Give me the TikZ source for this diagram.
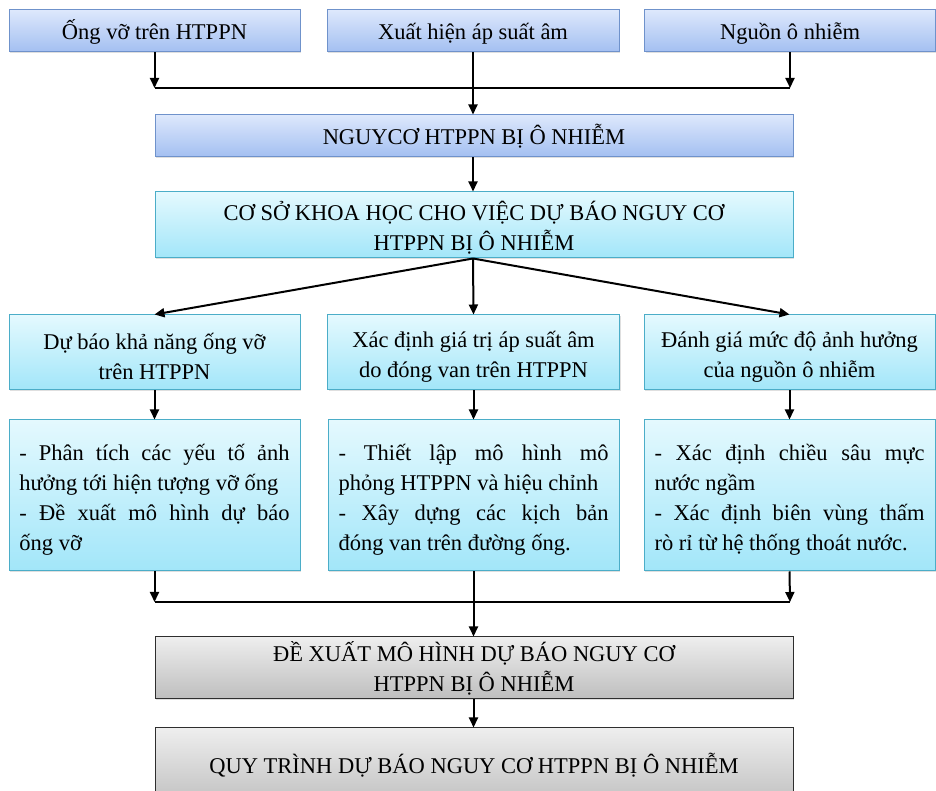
\documentclass[tikz,border=0pt]{standalone}
\usepackage{fontspec}
\setmainfont{Liberation Serif}
\usetikzlibrary{arrows.meta, shadows}

\definecolor{blueTop}{HTML}{DDE8FC}
\definecolor{blueBot}{HTML}{A3BFF1}
\definecolor{blueLine}{HTML}{6F92CB}
\definecolor{cyanTop}{HTML}{E4F9FE}
\definecolor{cyanBot}{HTML}{A2E6F9}
\definecolor{cyanLine}{HTML}{4BADC8}
\definecolor{grayTop}{HTML}{EEEEEE}
\definecolor{grayBot}{HTML}{BEBEBE}
\definecolor{grayLine}{HTML}{2E2E2E}

\begin{document}
\begin{tikzpicture}[x=1pt, y=1pt,
    font=\fontsize{22.5}{30}\selectfont,
    box/.style={rectangle, draw, line width=1pt, align=center, inner sep=0pt,
        drop shadow={opacity=0.25, shadow xshift=1.2pt, shadow yshift=-1.5pt}},
    oneline/.style={text height=19pt, text depth=1pt},
    bluebox/.style={box, draw=blueLine, top color=blueTop, bottom color=blueBot},
    cyanbox/.style={box, draw=cyanLine, top color=cyanTop, bottom color=cyanBot},
    graybox/.style={box, draw=grayLine, top color=grayTop, bottom color=grayBot},
    listbox/.style={cyanbox, align=justify, text width=270pt, inner xsep=10.5pt,
        minimum width=291pt, minimum height=151pt},
    arr/.style={-{Triangle[length=10pt, width=9pt]}, line width=2pt},
    lin/.style={line width=2pt}]
    \useasboundingbox (0,0) rectangle (936,791);

    % Draw nodes
    \node[bluebox, oneline, minimum width=291pt, minimum height=42pt] (src1) at (154.5,760) {Ống vỡ trên HTPPN};
    \node[bluebox, oneline, minimum width=292pt, minimum height=42pt] (src2) at (473,760) {Xuất hiện áp suất âm};
    \node[bluebox, oneline, minimum width=291pt, minimum height=42pt] (src3) at (790,760) {Nguồn ô nhiễm};

    \node[bluebox, oneline, minimum width=638pt, minimum height=42pt] (risk) at (474,655) {NGUYCƠ HTPPN BỊ Ô NHIỄM};
    \node[cyanbox, minimum width=638pt, minimum height=66pt] (base) at (474,566)
        {\rule{0pt}{25pt}CƠ SỞ KHOA HỌC CHO VIỆC DỰ BÁO NGUY CƠ\\HTPPN BỊ Ô NHIỄM};

    \node[cyanbox, minimum width=291pt, minimum height=75pt] (task1) at (154.5,438.5)
        {\rule{0pt}{25pt}Dự báo khả năng ống vỡ\\trên HTPPN};
    \node[cyanbox, minimum width=292pt, minimum height=75pt] (task2) at (473.5,438.5)
        {\rule{0pt}{25pt}Xác định giá trị áp suất âm\\do đóng van trên HTPPN};
    \node[cyanbox, minimum width=291pt, minimum height=75pt] (task3) at (789.5,438.5)
        {\rule{0pt}{25pt}Đánh giá mức độ ảnh hưởng\\của nguồn ô nhiễm};

    \node[listbox] (step1) at (154.5,295.5)
        {\rule{0pt}{24pt}- Phân tích các yếu tố ảnh\linebreak hưởng tới hiện tượng vỡ ống\\
         - Đề xuất mô hình dự báo\linebreak ống vỡ};
    \node[listbox] (step2) at (473.5,295.5)
        {\rule{0pt}{24pt}- Thiết lập mô hình mô\linebreak phỏng HTPPN và hiệu chỉnh\\
         - Xây dựng các kịch bản\linebreak đóng van trên đường ống.};
    \node[listbox] (step3) at (789.5,295.5)
        {\rule{0pt}{24pt}- Xác định chiều sâu mực\linebreak nước ngầm\\
         - Xác định biên vùng thấm\linebreak rò rỉ từ hệ thống thoát nước.};

    \node[graybox, minimum width=638pt, minimum height=62pt] (model) at (474,123)
        {ĐỀ XUẤT MÔ HÌNH DỰ BÁO NGUY CƠ\\HTPPN BỊ Ô NHIỄM};
    \node[graybox, minimum width=638pt, minimum height=80pt] (proc) at (474,23)
        {\raisebox{10pt}{QUY TRÌNH DỰ BÁO NGUY CƠ HTPPN BỊ Ô NHIỄM}};

    \coordinate (joinL) at (154.5,703);
    \coordinate (joinR) at (790,703);
    \coordinate (mergeL) at (154.5,189);
    \coordinate (mergeR) at (790,189);

    % Draw connections
    \draw[arr] (src1.south) -- (joinL);
    \draw[arr] (src3.south) -- (joinR);
    \draw[lin] (joinL) -- (joinR);
    \draw[arr] (src2.south) -- (src2.south |- risk.north);
    \draw[arr] (risk.south -| src2.south) -- (base.north -| src2.south);

    \draw[arr] (base.south -| src2.south) -- (task1.north);
    \draw[arr] (base.south -| src2.south) -- (task2.north);
    \draw[arr] (base.south -| src2.south) -- (task3.north);

    \draw[arr] (task1.south) -- (step1.north);
    \draw[arr] (task2.south) -- (step2.north);
    \draw[arr] (task3.south) -- (step3.north);

    \draw[arr] (step1.south) -- (mergeL);
    \draw[arr] (step3.south) -- (mergeR);
    \draw[lin] (mergeL) -- (mergeR);
    \draw[arr] (step2.south) -- (model.north -| step2.south);
    \draw[arr] (model.south -| step2.south) -- (proc.north -| step2.south);
\end{tikzpicture}
\end{document}
